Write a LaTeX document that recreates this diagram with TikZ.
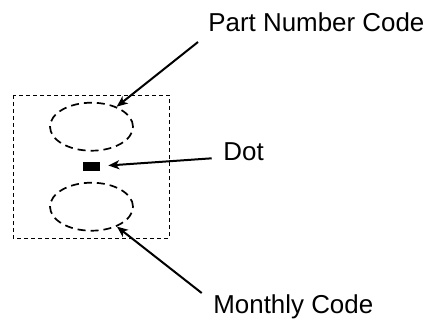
\documentclass[tikz,border=0pt]{standalone}
\usepackage{fontspec}
\setmainfont{Liberation Sans}
\usepackage{tikz}
\usetikzlibrary{arrows.meta,shapes.geometric}

\begin{document}
\begin{tikzpicture}[x=0.5bp,y=-0.5bp,
	codering/.style={draw,ellipse,dash pattern=on 4bp off 2.5bp,line width=0.85bp,minimum width=41.5bp,minimum height=24bp,inner sep=0},
	lbl/.style={anchor=base west,inner sep=0,font=\fontsize{13}{15}\selectfont},
	arr/.style={line width=1bp,-{Stealth[length=5.5bp,width=4.5bp,inset=1.5bp]}}]
	\useasboundingbox (0,0) rectangle (432,323);
	
	\draw[dash pattern=on 2bp off 1.5bp,line width=0.5bp] (13,95) rectangle (169,238);
	
	\node[codering] (pn) at (91.5,126.7) {};
	\node[draw,fill=black,minimum width=8bp,minimum height=4bp,inner sep=0,line width=0.3bp] (dot) at (91,166.7) {};
	\node[codering] (mc) at (91.5,206.7) {};
	
	\node[lbl] (pnlabel) at (208,31) {Part Number Code};
	\node[lbl] (dotlabel) at (223,160.5) {Dot};
	\node[lbl] (mclabel) at (213,313) {Monthly Code};
	
	\coordinate (pnstart) at (198,42);
	\coordinate (dotstart) at (211.7,158.3);
	\coordinate (mcstart) at (201.7,293);
	
	\draw[arr] (pnstart) -- (pn);
	\draw[arr,shorten >=4.5bp] (dotstart) -- (dot);
	\draw[arr] (mcstart) -- (mc);
\end{tikzpicture}
\end{document}
